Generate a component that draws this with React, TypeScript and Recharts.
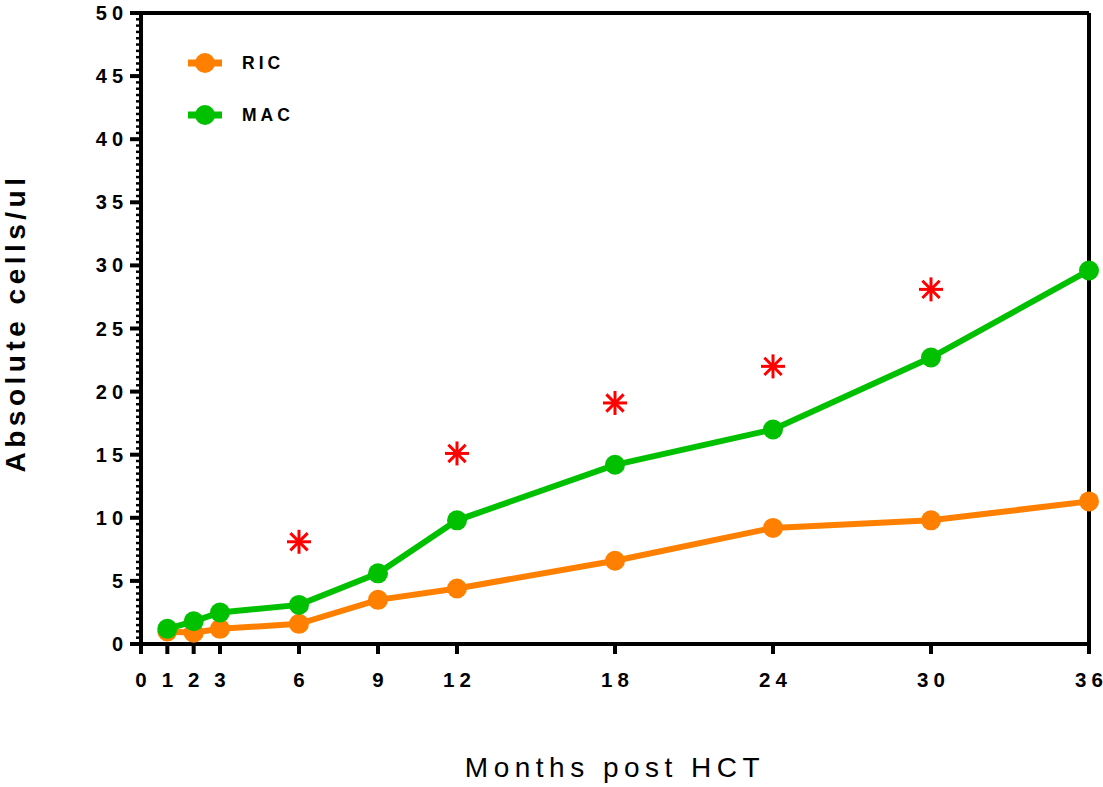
import React from 'react';
import { ComposedChart, Line, Scatter, XAxis, YAxis, ReferenceLine, Legend } from 'recharts';

const months = [1, 2, 3, 6, 9, 12, 18, 24, 30, 36];
const ricValues = [1.0, 0.9, 1.2, 1.6, 3.5, 4.4, 6.6, 9.2, 9.8, 11.3];
const macValues = [1.2, 1.8, 2.5, 3.1, 5.6, 9.8, 14.2, 17.0, 22.7, 29.6];
const starMonths = [6, 12, 18, 24, 30];
const starValues = [8.1, 15.1, 19.1, 22.0, 28.1];
const xTicks = [0, 1, 2, 3, 6, 9, 12, 18, 24, 30, 36];
// every 0.5 for minor ticks, labels only on multiples of 5
const yTicks = Array.from({ length: 101 }, (_, i) => i / 2);

const ORANGE = '#FF8000';
const GREEN = '#00C000';
const FONT = 'Arial, "Liberation Sans", sans-serif';
const TICK_SPACING = 5;

const lineData = months.map((m, i) => ({ month: m, ric: ricValues[i], mac: macValues[i] }));
const starData = starMonths.map((m, i) => ({ month: m, value: starValues[i] }));

// spaced digits without trailing space after the last one
const spaced = (v: number) =>
  String(v)
    .split('')
    .map((ch, i) => (
      <tspan key={i} dx={i === 0 ? 0 : TICK_SPACING}>
        {ch}
      </tspan>
    ));

const XTick = ({ x, y, payload }: any) => (
  <g>
    <line x1={x} x2={x} y1={y} y2={y + 10} stroke="#000" strokeWidth={4} />
    <text x={x} y={y + 43} textAnchor="middle" fontFamily={FONT} fontWeight="bold" fontSize={20.5} fill="#000">
      {spaced(payload.value)}
    </text>
  </g>
);

const YTick = ({ x, y, payload }: any) => {
  const v = payload.value;
  const major = v % 5 === 0;
  return (
    <g>
      <line x1={x - (major ? 11 : 5)} x2={x} y1={y} y2={y} stroke="#000" strokeWidth={major ? 4 : 2.5} />
      {major && (
        <text x={x - 18} y={y + 7} textAnchor="end" fontFamily={FONT} fontWeight="bold" fontSize={20} fill="#000">
          {spaced(v)}
        </text>
      )}
    </g>
  );
};

const Asterisk = ({ cx, cy }: any) => {
  const r = 12;
  const d = r * 0.72;
  return (
    <g stroke="#FF0000" strokeWidth={3}>
      <line x1={cx - r} x2={cx + r} y1={cy} y2={cy} />
      <line x1={cx} x2={cx} y1={cy - r} y2={cy + r} />
      <line x1={cx - d} x2={cx + d} y1={cy - d} y2={cy + d} />
      <line x1={cx - d} x2={cx + d} y1={cy + d} y2={cy - d} />
    </g>
  );
};

const LegendContent = () => (
  <div style={{ fontFamily: FONT }}>
    {[{ name: 'RIC', color: ORANGE }, { name: 'MAC', color: GREEN }].map((item) => (
      <div key={item.name} style={{ display: 'flex', alignItems: 'center', height: 52 }}>
        <svg width={34} height={24}>
          <line x1={0} x2={34} y1={12} y2={12} stroke={item.color} strokeWidth={7} />
          <circle cx={17} cy={12} r={10} fill={item.color} />
        </svg>
        <span style={{ marginLeft: 20, fontWeight: 'bold', fontSize: 17.5, letterSpacing: 4 }}>{item.name}</span>
      </div>
    ))}
  </div>
);

export default function App() {
  return (
    <div style={{ position: 'absolute', left: 0, top: 0, width: 1103, height: 787, background: '#fff' }}>
      <ComposedChart width={1103} height={787} margin={{ top: 13, right: 14, left: 41, bottom: 83 }}>
        <XAxis
          type="number"
          dataKey="month"
          domain={[0, 36]}
          ticks={xTicks}
          interval={0}
          axisLine={{ stroke: '#000', strokeWidth: 4 }}
          tickLine={false}
          tickSize={0}
          tickMargin={0}
          tick={<XTick />}
          height={60}
          label={{
            content: () => (
              <text x={615} y={777} textAnchor="middle" fontFamily={FONT} fontSize={28} letterSpacing={5.5} fill="#000">
                Months post HCT
              </text>
            ),
          }}
        />
        <YAxis
          type="number"
          domain={[0, 50]}
          ticks={yTicks}
          interval={0}
          width={100}
          axisLine={{ stroke: '#000', strokeWidth: 4 }}
          tickLine={false}
          tickSize={0}
          tickMargin={0}
          tick={<YTick />}
          label={{
            content: () => (
              <text
                x={25}
                y={323}
                transform="rotate(-90 25 323)"
                textAnchor="middle"
                fontFamily={FONT}
                fontWeight="bold"
                fontSize={28}
                letterSpacing={4.5}
                fill="#000"
              >
                Absolute cells/ul
              </text>
            ),
          }}
        />
        <ReferenceLine y={50} stroke="#000" strokeWidth={4} />
        <ReferenceLine x={36} stroke="#000" strokeWidth={4} />
        <Legend
          layout="vertical"
          verticalAlign="middle"
          align="center"
          content={<LegendContent />}
          wrapperStyle={{ left: 188, top: 37, width: 200 }}
        />
        <Line
          data={lineData}
          dataKey="ric"
          name="RIC"
          stroke={ORANGE}
          strokeWidth={6}
          dot={{ r: 10, fill: ORANGE, stroke: 'none' }}
          isAnimationActive={false}
        />
        <Line
          data={lineData}
          dataKey="mac"
          name="MAC"
          stroke={GREEN}
          strokeWidth={6}
          dot={{ r: 10, fill: GREEN, stroke: 'none' }}
          isAnimationActive={false}
        />
        <Scatter data={starData} dataKey="value" shape={<Asterisk />} isAnimationActive={false} />
      </ComposedChart>
    </div>
  );
}
